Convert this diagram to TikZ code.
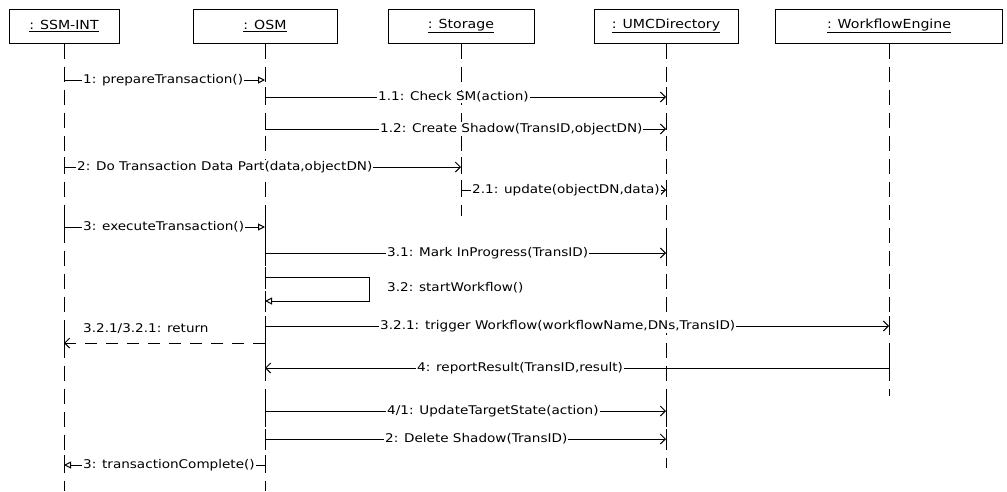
\documentclass[tikz,border=0pt]{standalone}
\usepackage{fontspec}
\setmainfont{DejaVu Sans}[FakeStretch=1.13]
\usetikzlibrary{arrows.meta}

\tikzset{
  obj/.style={draw, line width=1pt, minimum height=34pt, inner sep=0pt, font=\fontsize{12.5}{14}\selectfont},
  life/.style={line width=1pt, dash pattern=on 15pt off 8pt},
  tick/.style={line width=1pt},
  msg/.style={line width=1pt},
  sync/.style={msg, -{Straight Barb[length=5pt,width=10pt,line width=1pt]}},
  asyn/.style={msg, -{Triangle[open,length=7pt,width=7pt,line width=1pt]}},
  ret/.style={msg, dash pattern=on 12pt off 9pt, -{Straight Barb[length=5pt,width=10pt,line width=1pt]}},
  lbl/.style={fill=white, inner sep=1pt, anchor=west, font=\fontsize{12}{14}\selectfont},
  plain/.style={inner sep=1pt, anchor=west, font=\fontsize{12}{14}\selectfont}
}

\begin{document}
\begin{tikzpicture}[x=1pt, y=-1pt]
\useasboundingbox (0,0) rectangle (1007,491);

% object headers
\node[obj, minimum width=110pt] (ssm) at (64,26) {\underline{: SSM-INT}};
\node[obj, minimum width=144pt] (osm) at (265,26) {\underline{: OSM}};
\node[obj, minimum width=146pt] (sto) at (461,26) {\underline{: Storage}};
\node[obj, minimum width=144pt] (umc) at (666,26) {\underline{: UMCDirectory}};
\node[obj, minimum width=227pt] (wfe) at (889,26) {\underline{: WorkflowEngine}};

% lifeline ends
\coordinate (ssmEnd) at (64,491);
\coordinate (osmEnd) at (265,491);
\coordinate (stoEnd) at (461,216);
\coordinate (umcEnd) at (666,468);
\coordinate (wfeEnd) at (889,396);

\draw[life] (ssm.south) -- (ssmEnd);
\draw[life] (osm.south) -- (osmEnd);
\draw[life] (sto.south) -- (stoEnd);
\draw[life] (umc.south) -- (umcEnd);
\draw[life] (wfe.south) -- (wfeEnd);

% short solid lifeline pieces at the message ends
\foreach \n/\y in {ssm/80, osm/80, osm/97, umc/97, osm/129, umc/129, ssm/167, sto/167,
                   sto/190, umc/190, ssm/227, osm/227, osm/253, umc/253, osm/277, osm/301,
                   osm/326, wfe/326, osm/343, ssm/343, osm/368, wfe/368, osm/411, umc/411,
                   osm/439, umc/439, osm/465, ssm/465}
  \draw[tick] (\n |- 0,\y-10) -- (\n |- 0,\y+1);

% 1: prepareTransaction()
\draw[asyn] (ssm |- 0,80) -- (osm |- 0,80);
\node[lbl] (l1) at (82,80) {1: prepareTransaction()};

% 1.1: Check SM(action)
\draw[sync] (osm |- 0,97) -- (umc |- 0,97);
\node[lbl] (l11) at (377,97) {1.1: Check SM(action)};

% 1.2: Create Shadow(TransID,objectDN)
\draw[sync] (osm |- 0,129) -- (umc |- 0,129);
\node[lbl] (l12) at (379,129) {1.2: Create Shadow(TransID,objectDN)};

% 2: Do Transaction Data Part(data,objectDN)
\draw[sync] (ssm |- 0,167) -- (sto |- 0,167);
\node[lbl] (l2) at (76,167) {2: Do Transaction Data Part(data,objectDN)};

% 2.1: update(objectDN,data)
\draw[sync] (sto |- 0,190) -- (umc |- 0,190);
\node[lbl] (l21) at (471,190) {2.1: update(objectDN,data)};

% 3: executeTransaction()
\draw[asyn] (ssm |- 0,227) -- (osm |- 0,227);
\node[lbl] (l3) at (82,227) {3: executeTransaction()};

% 3.1: Mark InProgress(TransID)
\draw[sync] (osm |- 0,253) -- (umc |- 0,253);
\node[lbl] (l31) at (386,253) {3.1: Mark InProgress(TransID)};

% 3.2: startWorkflow() (self call)
\draw[asyn] (osm |- 0,277) -- ++(104,0) -- ++(0,24) -- (osm |- 0,301);
\node[plain] (l32) at (386,288) {3.2: startWorkflow()};

% 3.2.1: trigger Workflow(...)
\draw[sync] (osm |- 0,326) -- (wfe |- 0,326);
\node[lbl] (l321) at (379,326) {3.2.1: trigger Workflow(workflowName,DNs,TransID)};

% 3.2.1/3.2.1: return
\draw[ret] (osm |- 0,343) -- (ssm |- 0,343);
\node[plain] (lret) at (82,329) {3.2.1/3.2.1: return};

% 4: reportResult(TransID,result)
\draw[sync] (wfe |- 0,368) -- (osm |- 0,368);
\node[lbl] (l4) at (416,368) {4: reportResult(TransID,result)};

% 4/1: UpdateTargetState(action)
\draw[sync] (osm |- 0,411) -- (umc |- 0,411);
\node[lbl] (l41) at (386,411) {4/1: UpdateTargetState(action)};

% 2: Delete Shadow(TransID)
\draw[sync] (osm |- 0,439) -- (umc |- 0,439);
\node[lbl] (l2d) at (384,439) {2: Delete Shadow(TransID)};

% 3: transactionComplete()
\draw[asyn] (osm |- 0,465) -- (ssm |- 0,465);
\node[lbl] (l3c) at (82,465) {3: transactionComplete()};

\end{tikzpicture}
\end{document}
